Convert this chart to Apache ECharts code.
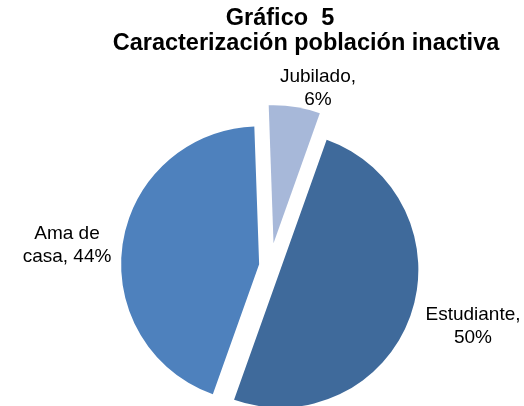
<!DOCTYPE html>
<html>
<head>
<meta charset="utf-8">
<script src="https://cdn.jsdelivr.net/npm/echarts@6/dist/echarts.min.js"></script>
<style>
  html, body { margin: 0; padding: 0; background: #fff; }
  #main { width: 524px; height: 406px; }
</style>
</head>
<body>
<div id="main"></div>
<script>
// datos del grafico
var categorias = ['Jubilado', 'Estudiante', 'Ama de casa'];
var porcentajes = [6, 50, 44];
var etiquetas = ['Jubilado,\n6%', 'Estudiante,\n50%', 'Ama de\ncasa, 44%'];

var colores = ['#A7B8D9', '#3F6A9B', '#4E81BD'];
// donde va cada etiqueta: centro x, borde de arriba
var posEtiquetas = [[318, 65], [473, 303], [67, 222]];

var chartDom = document.getElementById('main');
var myChart = echarts.init(chartDom);

// la serie 1 dibuja estudiante y ama de casa, la 2 solo jubilado (mas separado)
function armarDatos(visibles) {
  return categorias.map(function (c, i) {
    var ver = visibles.indexOf(i) >= 0;
    return {
      name: c,
      value: porcentajes[i],
      selected: ver,
      itemStyle: { color: ver ? colores[i] : 'rgba(0,0,0,0)' }
    };
  });
}

function serie(visibles, offset) {
  return {
    type: 'pie',
    center: [270, 266],
    radius: 138,
    startAngle: 92,
    clockwise: true,
    selectedMode: 'multiple',
    selectedOffset: offset,
    silent: true,
    animation: false,
    label: { show: false },
    labelLine: { show: false },
    data: armarDatos(visibles)
  };
}

var estiloTitulo = { fontFamily: 'Liberation Sans, Arial', fontSize: 23.5, fontWeight: 'bold', color: '#000' };
var estiloEtiqueta = { fontFamily: 'Liberation Sans, Arial', fontSize: 19, fontWeight: 'normal', lineHeight: 23, color: '#000', align: 'center' };

// las etiquetas de las porciones van como textos sueltos
var textos = [
  { text: 'Gráfico  5', left: 275, top: 2, textAlign: 'center', textStyle: estiloTitulo },
  { text: 'Caracterización población inactiva', left: 301, top: 27, textAlign: 'center', textStyle: estiloTitulo }
];
etiquetas.forEach(function (t, i) {
  textos.push({
    text: t,
    left: posEtiquetas[i][0],
    top: posEtiquetas[i][1],
    textAlign: 'center',
    padding: 0,
    textStyle: estiloEtiqueta
  });
});

var option = {
  title: textos,
  series: [
    serie([1, 2], 11),
    serie([0], 23)
  ]
};

option && myChart.setOption(option);
</script>
</body>
</html>
